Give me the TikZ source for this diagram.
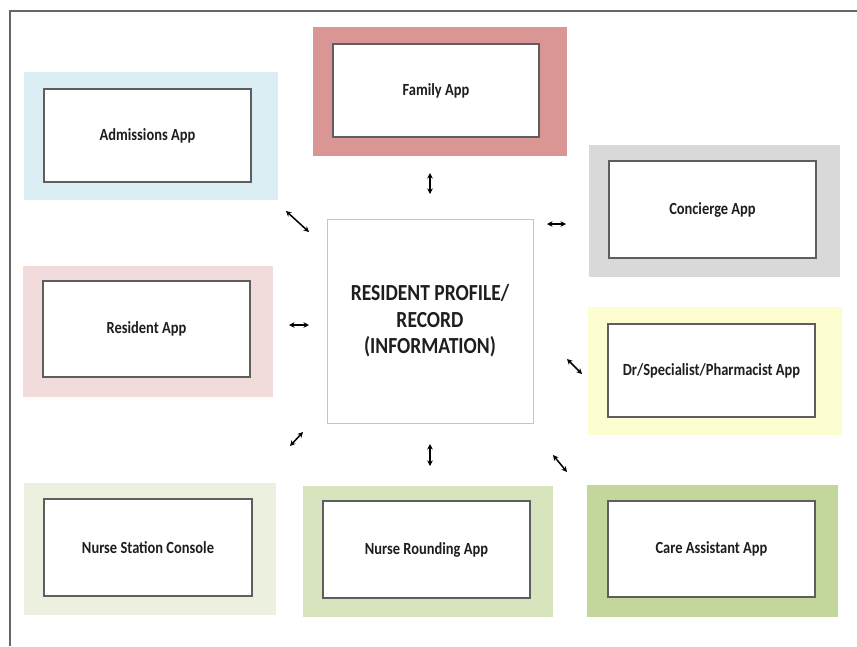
\documentclass[tikz,border=0pt]{standalone}
\usepackage{fontspec}
\setmainfont{Carlito}[FakeStretch=0.85]
\usetikzlibrary{arrows.meta}
\definecolor{frameC}{HTML}{666666}
\definecolor{innerC}{HTML}{5E5E5E}
\definecolor{centerC}{HTML}{C4C4C4}
\definecolor{txtC}{HTML}{1E1E1E}
\definecolor{admC}{HTML}{DBEEF4}
\definecolor{famC}{HTML}{D99694}
\definecolor{conC}{HTML}{D9D9D9}
\definecolor{drC}{HTML}{FDFDD2}
\definecolor{resC}{HTML}{F2DCDB}
\definecolor{nsC}{HTML}{EBF1DE}
\definecolor{nrC}{HTML}{D7E4BD}
\definecolor{caC}{HTML}{C3D69B}
\tikzset{
  outerbox/.style={rectangle, draw=none, inner sep=0pt},
  innerbox/.style={rectangle, draw=innerC, line width=1.1pt, fill=white, inner sep=0pt,
    text=txtC, font=\fontsize{17}{19}\selectfont\bfseries},
  centerbox/.style={rectangle, draw=centerC, line width=1pt, fill=white, inner sep=0pt,
    text=txtC, align=center, font=\fontsize{23}{26.5}\selectfont\bfseries},
  dblarrow/.style={line width=1.5pt, {Stealth[length=5.5pt,width=5.5pt]}-{Stealth[length=5.5pt,width=5.5pt]}},
}
\begin{document}
\begin{tikzpicture}[x=1pt,y=-1pt]
\useasboundingbox (0,0) rectangle (857,646);
\fill[white] (0,0) rectangle (857,646);
% frame
\draw[frameC, line width=2.8pt] (10,646) -- (10,11) -- (857,11);
% outer colored boxes
\node[outerbox, fill=admC, minimum width=254pt, minimum height=128pt] (admO) at (151,136) {};
\node[outerbox, fill=famC, minimum width=254pt, minimum height=129pt] (famO) at (440,91.5) {};
\node[outerbox, fill=conC, minimum width=251pt, minimum height=132pt] (conO) at (714.5,211) {};
\node[outerbox, fill=drC, minimum width=254pt, minimum height=128pt] (drO) at (715,371) {};
\node[outerbox, fill=resC, minimum width=250pt, minimum height=131pt] (resO) at (148,331.5) {};
\node[outerbox, fill=nsC, minimum width=252pt, minimum height=132pt] (nsO) at (150,549) {};
\node[outerbox, fill=nrC, minimum width=250pt, minimum height=131pt] (nrO) at (428,551.5) {};
\node[outerbox, fill=caC, minimum width=251pt, minimum height=132pt] (caO) at (712.5,551) {};
% inner white boxes
\node[innerbox, minimum width=207pt, minimum height=93pt] (adm) at (147.5,135.5) {Admissions App};
\node[innerbox, minimum width=206pt, minimum height=93pt] (fam) at (436,90.5) {Family App};
\node[innerbox, minimum width=207pt, minimum height=97pt] (con) at (712.5,209.5) {Concierge App};
\node[innerbox, minimum width=207pt, minimum height=93pt] (dr) at (711.5,370.5) {Dr/Specialist/Pharmacist App};
\node[innerbox, minimum width=207pt, minimum height=96pt] (res) at (146.5,329) {Resident App};
\node[innerbox, minimum width=208pt, minimum height=97pt] (ns) at (148,547.5) {Nurse Station Console};
\node[innerbox, minimum width=207pt, minimum height=97pt] (nr) at (426.5,549.5) {Nurse Rounding App};
\node[innerbox, minimum width=207pt, minimum height=96pt] (ca) at (711.5,549) {Care Assistant App};
% center
\node[centerbox, minimum width=206pt, minimum height=204pt] (rec) at (430,321) {RESIDENT PROFILE/\\RECORD\\(INFORMATION)};
% arrow end points
\coordinate (famA) at (430,173);   \coordinate (famB) at (430,194);
\coordinate (admA) at (286,211);   \coordinate (admB) at (309,232);
\coordinate (conA) at (547,224);   \coordinate (conB) at (566,224);
\coordinate (resA) at (289,325);   \coordinate (resB) at (309,325);
\coordinate (drA) at (567,359);    \coordinate (drB) at (582,374);
\coordinate (nsA) at (290,446);    \coordinate (nsB) at (303,432);
\coordinate (nrA) at (430,444);    \coordinate (nrB) at (430,466);
\coordinate (caA) at (553,455);    \coordinate (caB) at (567,472);
\draw[dblarrow] (famA) -- (famB);
\draw[dblarrow] (admA) -- (admB);
\draw[dblarrow] (conA) -- (conB);
\draw[dblarrow] (resA) -- (resB);
\draw[dblarrow] (drA) -- (drB);
\draw[dblarrow] (nsA) -- (nsB);
\draw[dblarrow] (nrA) -- (nrB);
\draw[dblarrow] (caA) -- (caB);
\end{tikzpicture}
\end{document}
